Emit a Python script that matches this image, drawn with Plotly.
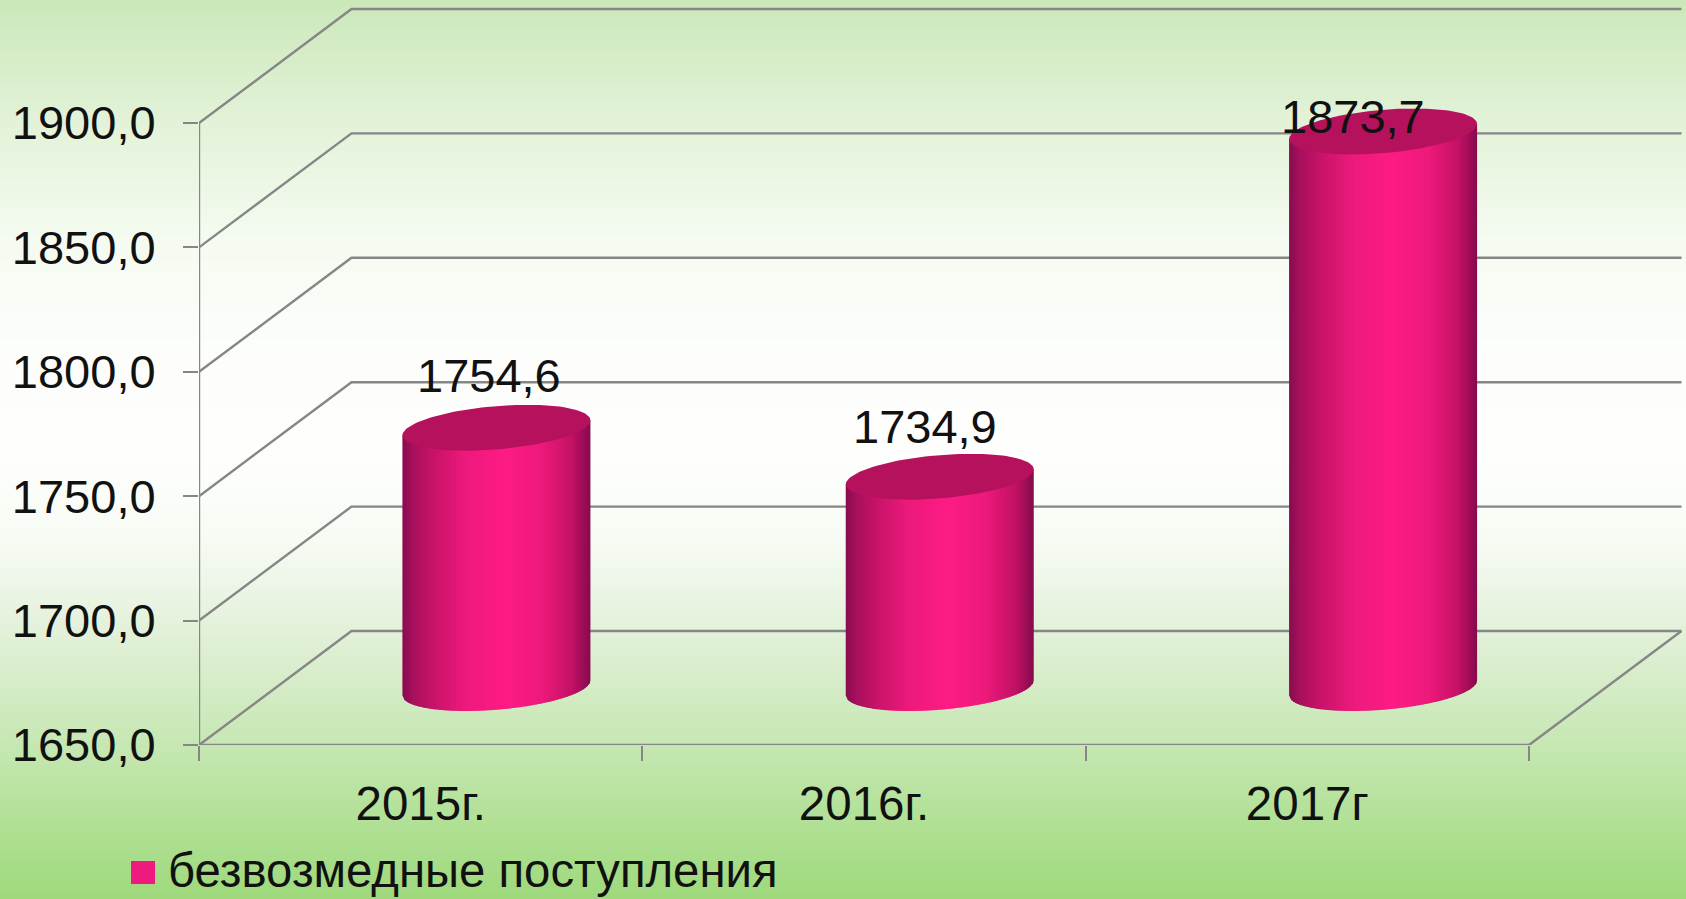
import numpy as np
import plotly.graph_objects as go

# --- data ---
categories = ["2015г.", "2016г.", "2017г"]
values = [1754.6, 1734.9, 1873.7]
value_labels = ["1754,6", "1734,9", "1873,7"]
y_ticks = [1650, 1700, 1750, 1800, 1850, 1900]
y_tick_labels = ["1650,0", "1700,0", "1750,0", "1800,0", "1850,0", "1900,0"]
series_name = "безвозмедные поступления"

# --- layout / style ---
W, H = 1686, 899
PLOT_L, PLOT_B = 199, 154
PX_X = 443.33           # pixels per category
PX_Y = 2.488            # pixels per value unit
Y_MIN = 1650
DEPTH_X = 152.5 / PX_X  # oblique depth in axis units
DEPTH_Y = 114 / PX_Y
RX = 94 / PX_X
TILT = 7.5 / PX_Y
RY = 21.7 / PX_Y
GREY = "#868686"
TEXT = "#111111"
FONT = "Liberation Sans, Arial, sans-serif"
label_shift = [(-7, 52), (-15, 50), (-30, 15)]

bg_stops = [
    (0.00, "#cbe8ba"), (0.13, "#e2f2d7"), (0.27, "#f5fbf1"), (0.40, "#fdfefc"),
    (0.50, "#fefffd"), (0.60, "#f7fbf4"), (0.70, "#e3f1da"), (0.83, "#c6e7b2"),
    (0.92, "#b0e094"), (1.00, "#9fd97c"),
]
shade_stops = [
    (0.00, "#870c50"), (0.05, "#a5105c"), (0.18, "#cc146c"), (0.34, "#ee1a7d"),
    (0.55, "#fe1c85"), (0.74, "#ee1a7c"), (0.90, "#c41266"), (1.00, "#850b4e"),
]
TOP_COLOR = "#b5115c"
LEGEND_COLOR = "#ef1a7f"


def hex2rgb(h):
    return np.array([int(h[i:i + 2], 16) for i in (1, 3, 5)], float)


def shade(u):
    ps = [s[0] for s in shade_stops]
    cs = np.array([hex2rgb(s[1]) for s in shade_stops])
    return "rgb(%d,%d,%d)" % tuple(np.interp(u, ps, cs[:, k]) for k in range(3))


fig = go.Figure()

# background gradient, full page
ramp = np.linspace(1, 0, 450)
fig.add_trace(go.Heatmap(
    z=[[v, v] for v in ramp], y=np.arange(450), x=[0, 1], xaxis="x", yaxis="y",
    colorscale=[[a, b] for a, b in bg_stops], zmin=0, zmax=1,
    showscale=False, hoverinfo="skip",
))

# walls and gridlines
gx, gy = [], []
for v in y_ticks:
    gx += [0, DEPTH_X, 3 + DEPTH_X, None]
    gy += [v, v + DEPTH_Y, v + DEPTH_Y, None]
gx += [3, 3 + DEPTH_X, None, 0, 3, None, 0, 0]
gy += [Y_MIN, Y_MIN + DEPTH_Y, None, Y_MIN, Y_MIN, None, Y_MIN, y_ticks[-1]]
fig.add_trace(go.Scatter(
    x=gx, y=gy, mode="lines", line=dict(color=GREY, width=2.4), cliponaxis=False,
    xaxis="x2", yaxis="y2", hoverinfo="skip", showlegend=False,
))

# cylinders: vertical shaded strips, grouped by shade
N = 94
centers = [i + 0.5 + 151.5 / PX_X / 2 for i in range(len(values))]
base_level = Y_MIN + DEPTH_Y / 2


def lower_arc(cx, cy, x):
    c = np.clip((x - cx) / RX, -1, 1)
    s = np.sqrt(1 - c ** 2)
    return cy + TILT * c - RY * s


def mid_line(cx, cy, x):
    return cy + TILT * (x - cx) / RX


for k in range(N):
    u0, u1 = k / N, min(1, (k + 1.6) / N)
    xs, ys = [], []
    for cx, val in zip(centers, values):
        top_cy = val + DEPTH_Y / 2
        x0, x1 = cx - RX + 2 * RX * u0, cx - RX + 2 * RX * u1
        tx = np.linspace(x0, x1, 4)
        xs += list(tx) + [x1, x0, x0, None]
        ys += list(lower_arc(cx, base_level, tx)) + [
            float(mid_line(cx, top_cy, x1)),
            float(mid_line(cx, top_cy, x0)),
            float(lower_arc(cx, base_level, x0)), None]
    fig.add_trace(go.Scatter(
        x=xs, y=ys, mode="lines", fill="toself", line=dict(width=0),
        fillcolor=shade((k + 0.5) / N), xaxis="x2", yaxis="y2",
        hoverinfo="skip", showlegend=False,
    ))

# cylinder top caps
theta = np.linspace(0, 2 * np.pi, 121)
cap_x, cap_y = [], []
for cx, val in zip(centers, values):
    cy = val + DEPTH_Y / 2
    cap_x += list(cx + RX * np.cos(theta)) + [None]
    cap_y += list(cy + TILT * np.cos(theta) + RY * np.sin(theta)) + [None]
fig.add_trace(go.Scatter(
    x=cap_x, y=cap_y, mode="lines", fill="toself", line=dict(width=0),
    fillcolor=TOP_COLOR, xaxis="x2", yaxis="y2", hoverinfo="skip", showlegend=False,
))

# value labels
for cx, val, txt, (sx, sy) in zip(centers, values, value_labels, label_shift):
    fig.add_annotation(
        x=cx, y=val + DEPTH_Y / 2, xref="x2", yref="y2", text=txt, showarrow=False,
        xshift=sx, yshift=sy, xanchor="center", yanchor="middle",
        font=dict(family=FONT, size=47, color=TEXT),
    )

# legend key and text
fig.add_shape(type="rect", xref="paper", yref="paper",
              x0=131 / W, x1=155 / W, y0=1 - 884 / H, y1=1 - 861 / H,
              fillcolor=LEGEND_COLOR, line=dict(width=0))
fig.add_annotation(
    x=166 / W, y=1 - 870 / H, xref="paper", yref="paper", text=series_name,
    showarrow=False, xanchor="left", yanchor="middle",
    font=dict(family=FONT, size=47.3, color=TEXT),
)

fig.update_layout(
    width=W, height=H, margin=dict(l=0, r=0, t=0, b=0, pad=0, autoexpand=False),
    paper_bgcolor="#9fd97c", plot_bgcolor="rgba(0,0,0,0)",
    showlegend=False,
    font=dict(family=FONT, color=TEXT),
    xaxis=dict(domain=[0, 1], range=[0, 1], visible=False, fixedrange=True),
    yaxis=dict(domain=[0, 1], range=[-0.5, 449.5], visible=False, fixedrange=True),
    xaxis2=dict(
        domain=[PLOT_L / W, 1], range=[0, (W - PLOT_L) / PX_X], anchor="y2",
        tickvals=[i + 0.5 for i in range(len(categories))], ticktext=categories,
        ticks="", showgrid=False, zeroline=False, showline=False, fixedrange=True,
        tickfont=dict(family=FONT, size=47.5, color=TEXT), ticklabelstandoff=26,
        minor=dict(tickvals=list(range(len(categories) + 1)), ticks="outside",
                   ticklen=15, tickwidth=2.4, tickcolor=GREY, showgrid=False),
    ),
    yaxis2=dict(
        domain=[PLOT_B / H, 1], range=[Y_MIN, Y_MIN + (H - PLOT_B) / PX_Y], anchor="x2",
        tickvals=y_ticks, ticktext=y_tick_labels, ticks="outside", ticklen=15,
        tickwidth=2.4, tickcolor=GREY, showgrid=False, zeroline=False, showline=False,
        fixedrange=True, tickfont=dict(family=FONT, size=47, color=TEXT),
        ticklabelstandoff=18,
    ),
)

fig.write_html("out.html", config=dict(displayModeBar=False),
               post_script="document.body.style.margin='0';document.body.style.overflow='hidden';document.documentElement.style.background='#9fd97c';")
